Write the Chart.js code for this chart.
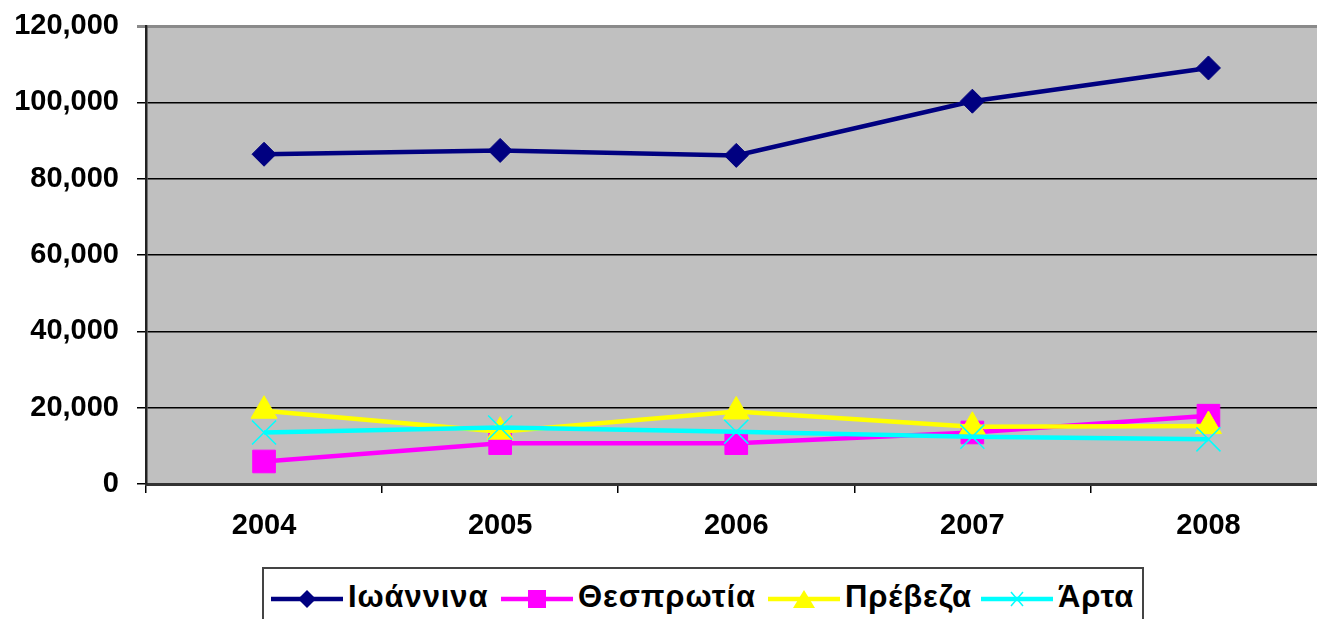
<!DOCTYPE html>
<html>
<head>
<meta charset="utf-8">
<script src="https://cdn.jsdelivr.net/npm/chart.js@4.4.0/dist/chart.umd.min.js"></script>
<style>
    html, body { margin: 0; padding: 0; background: #fff; overflow: hidden; }
    #wrap { position: relative; width: 1345px; height: 619px; }
    #legend {
        position: absolute; left: 262px; top: 567px; width: 882px; height: 70px;
        border: 2px solid #444; box-sizing: border-box; background: #fff;
        font: bold 31px "Liberation Sans", Arial, sans-serif; color: #000;
        letter-spacing: 0.9px;
    }
    #legend .item { position: absolute; top: 10px; display: flex; align-items: center; white-space: nowrap; }
    #legend svg { display: block; margin-right: 5px; margin-top: 4px; }
</style>
</head>
<body>
<div id="wrap">
    <canvas id="chart"></canvas>
    <div id="legend"></div>
</div>
<script>
// values (approximate)
const years = ["2004", "2005", "2006", "2007", "2008"];
const ioannina = [86400, 87400, 86100, 100300, 109000];
const thesprotia = [5900, 10700, 10700, 13500, 17900];
const preveza = [19200, 13700, 19000, 15000, 15200];
const arta = [13500, 14800, 13700, 12400, 11700];
const yTicks = [0, 20000, 40000, 60000, 80000, 100000, 120000];

const seriesNames = ["Ιωάννινα", "Θεσπρωτία", "Πρέβεζα", "Άρτα"];
const seriesColors = ["#000080", "#FF00FF", "#FFFF00", "#00FFFF"];
const legendLefts = [7, 237, 504, 717];

const FONT = '"Liberation Sans", Arial, sans-serif';

// grey plot area like the old spreadsheet chart
const plotBackground = {
    id: "plotBackground",
    beforeDraw(chart) {
        const { ctx, chartArea: a } = chart;
        ctx.save();
        ctx.fillStyle = "#C0C0C0";
        ctx.fillRect(a.left, a.top, a.right - a.left, a.bottom - a.top);
        ctx.restore();
    },
};

function makeDataset(label, data, color, style, radius, order) {
    return {
        label,
        data,
        borderColor: color,
        backgroundColor: color,
        borderWidth: 4.5,
        tension: 0,
        pointStyle: style,
        pointRadius: radius,
        pointHoverRadius: radius,
        pointBorderWidth: style === "crossRot" ? 1.5 : 1,
        pointBorderColor: color,
        pointBackgroundColor: color,
        order,
    };
}

const chart = new Chart(document.getElementById("chart"), {
    type: "line",
    data: {
        labels: years,
        datasets: [
            makeDataset(seriesNames[0], ioannina, seriesColors[0], "rectRot", 12, 4),
            makeDataset(seriesNames[1], thesprotia, seriesColors[1], "rect", 16, 3),
            makeDataset(seriesNames[2], preveza, seriesColors[2], "triangle", 15, 2),
            makeDataset(seriesNames[3], arta, seriesColors[3], "crossRot", 17, 1),
        ],
    },
    options: {
        responsive: true,
        maintainAspectRatio: false,
        animation: false,
        layout: { padding: { top: 26, right: 0, left: 0, bottom: 0 } },
        plugins: {
            legend: { display: false },
            tooltip: { enabled: false },
        },
        scales: {
            x: {
                offset: true,
                afterFit: (scale) => {
                    scale.height = 619 - 484;
                    scale.paddingLeft = 0;
                    scale.paddingRight = 0;
                },
                border: { color: "#333", width: 3 },
                grid: {
                    offset: true,
                    drawOnChartArea: false,
                    drawTicks: true,
                    tickLength: 9,
                    color: "#000",
                    lineWidth: 1.5,
                },
                ticks: {
                    color: "#000",
                    padding: 16,
                    font: { family: FONT, size: 29, weight: "bold" },
                },
            },
            y: {
                min: 0,
                max: 120000,
                afterFit: (scale) => {
                    scale.width = 146;
                    scale.paddingTop = 0;
                    scale.paddingBottom = 0;
                },
                afterBuildTicks: (scale) => { scale.ticks = yTicks.map((v) => ({ value: v })); },
                border: { color: "#222", width: 2.5 },
                grid: {
                    color: (c) => (c.tick && c.tick.value === 120000 ? "#8a8a8a" : "#000"),
                    lineWidth: (c) => (c.tick && c.tick.value === 120000 ? 3 : 1.5),
                    tickLength: 9,
                    drawTicks: true,
                },
                ticks: {
                    color: "#000",
                    padding: 18,
                    font: { family: FONT, size: 29, weight: "bold" },
                    callback: (v) => Number(v).toLocaleString("en-US"),
                },
            },
        },
    },
    plugins: [plotBackground],
});

// legend with line + marker samples
function markerSvg(i) {
    const c = seriesColors[i];
    let m = "";
    if (i === 0) m = `<polygon points="36,3 45,12 36,21 27,12" fill="${c}"/>`;
    else if (i === 1) m = `<rect x="27" y="3" width="18" height="18" fill="${c}"/>`;
    else if (i === 2) m = `<polygon points="36,3 47,21 25,21" fill="${c}"/>`;
    else m = `<path d="M30,5 L42,19 M42,5 L30,19" stroke="${c}" stroke-width="1.5"/>`;
    return `<svg width="72" height="24"><line x1="0" y1="12" x2="72" y2="12" stroke="${c}" stroke-width="4.5"/>${m}</svg>`;
}

const legendEl = document.getElementById("legend");
seriesNames.forEach((name, i) => {
    const item = document.createElement("div");
    item.className = "item";
    item.style.left = legendLefts[i] + "px";
    item.innerHTML = markerSvg(i);
    const txt = document.createElement("span");
    txt.textContent = name;
    item.appendChild(txt);
    legendEl.appendChild(item);
});
</script>
</body>
</html>
